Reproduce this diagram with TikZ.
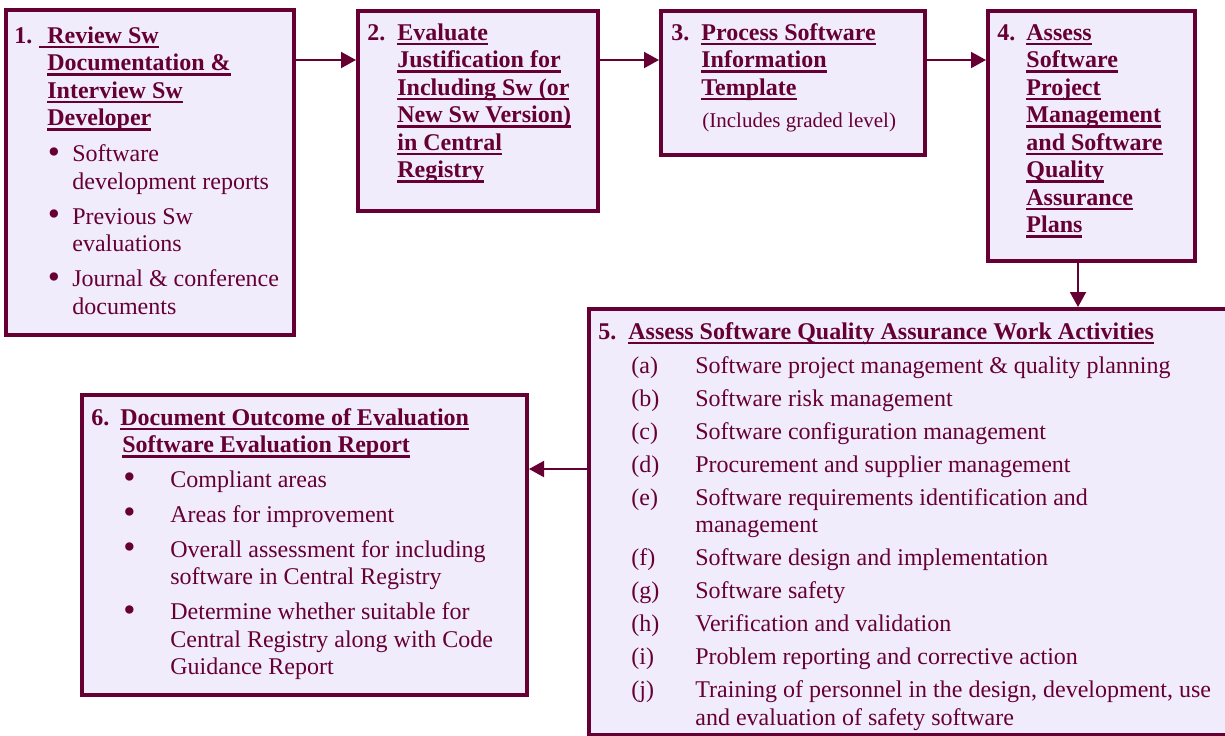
\documentclass[tikz,border=0pt]{standalone}
\usepackage{fontspec}
\setmainfont{Liberation Serif}
\usetikzlibrary{arrows.meta}
\definecolor{maroon}{RGB}{102,0,51}
\definecolor{lav}{RGB}{240,236,252}
\newcommand\ulx[1]{\setbox0=\hbox{#1}\rlap{\color{maroon}\rule[-2.5pt]{\wd0}{1.2pt}}\box0}
\newcommand\bul[2]{\hspace*{#1}\makebox[#2][l]{\raisebox{-0.9pt}{\scalebox{1.45}{\textbullet}}}}
\newcommand\lbl[2]{\hspace*{16.5pt}\makebox[32pt][l]{#1}#2}
\tikzset{
  box/.style={draw=maroon, fill=lav, line width=2pt, inner sep=0pt},
  txt/.style={anchor=base west, inner sep=0pt, text=maroon, font=\fontsize{12}{13.75}\selectfont},
  arr/.style={draw=maroon, line width=1pt, -{Triangle[length=7.5pt,width=8pt]}}
}
\begin{document}
\begin{tikzpicture}[x=0.5pt,y=-0.5pt]
\useasboundingbox (0,0) rectangle (1225,735);
\clip (0,0) rectangle (1225,735);
\fill[white] (0,0) rectangle (1225,735);
% boxes
\node[box, minimum width=144pt, minimum height=162.5pt] (b1) at (150,172.5) {};
\node[box, minimum width=120pt, minimum height=100pt] (b2) at (478,111) {};
\node[box, minimum width=132pt, minimum height=72pt] (b3) at (793,83) {};
\node[box, minimum width=103.5pt, minimum height=125pt] (b4) at (1091.5,136) {};
\node[box, minimum width=325.5pt, minimum height=213pt] (b5) at (914.5,522) {};
\node[box, minimum width=222.5pt, minimum height=150pt] (b6) at (304.5,545) {};
% texts
\node[txt] (t1) at (14,43) {\parbox[t]{300pt}{\raggedright\bfseries
\makebox[12.5pt][l]{1.}\ulx{\hspace*{4pt}Review Sw}\\
\hspace*{16.5pt}\ulx{Documentation \&}\\
\hspace*{16.5pt}\ulx{Interview Sw}\\
\hspace*{16.5pt}\ulx{Developer}\\[4.25pt]
\mdseries
\bul{16.75pt}{12.25pt}Software\\
\hspace*{29pt}development reports\\[3.75pt]
\bul{16.75pt}{12.25pt}Previous Sw\\
\hspace*{29pt}evaluations\\[3.75pt]
\bul{16.75pt}{12.25pt}Journal \& conference\\
\hspace*{29pt}documents}};
\node[txt] (t2) at (367,40) {\parbox[t]{300pt}{\raggedright\bfseries
\makebox[15pt][l]{2.}\ulx{Evaluate}\\
\hspace*{15pt}\ulx{Justification for}\\
\hspace*{15pt}\ulx{Including Sw (or}\\
\hspace*{15pt}\ulx{New Sw Version)}\\
\hspace*{15pt}\ulx{in Central}\\
\hspace*{15pt}\ulx{Registry}}};
\node[txt] (t3) at (671,40) {\parbox[t]{300pt}{\raggedright\bfseries
\makebox[15pt][l]{3.}\ulx{Process Software}\\
\hspace*{15pt}\ulx{Information}\\
\hspace*{15pt}\ulx{Template}\\[2.25pt]
{\mdseries\fontsize{10.5}{13.75}\selectfont\hspace*{15.5pt}(Includes graded level)}}};
\node[txt] (t4) at (997,40) {\parbox[t]{300pt}{\raggedright\bfseries
\makebox[14.5pt][l]{4.}\ulx{Assess}\\
\hspace*{14.5pt}\ulx{Software}\\
\hspace*{14.5pt}\ulx{Project}\\
\hspace*{14.5pt}\ulx{Management}\\
\hspace*{14.5pt}\ulx{and Software}\\
\hspace*{14.5pt}\ulx{Quality}\\
\hspace*{14.5pt}\ulx{Assurance}\\
\hspace*{14.5pt}\ulx{Plans}}};
\node[txt] (t5) at (598,339) {\parbox[t]{400pt}{\raggedright
{\bfseries\makebox[15pt][l]{5.}\ulx{Assess Software Quality Assurance Work Activities}}\\[3.25pt]
\lbl{(a)}{Software project management \& quality planning}\\[2.75pt]
\lbl{(b)}{Software risk management}\\[2.75pt]
\lbl{(c)}{Software configuration management}\\[2.75pt]
\lbl{(d)}{Procurement and supplier management}\\[2.75pt]
\lbl{(e)}{Software requirements identification and}\\
\hspace*{48.5pt}management\\[2.75pt]
\lbl{(f)}{Software design and implementation}\\[2.75pt]
\lbl{(g)}{Software safety}\\[2.75pt]
\lbl{(h)}{Verification and validation}\\[2.75pt]
\lbl{(i)}{Problem reporting and corrective action}\\[2.75pt]
\lbl{(j)}{Training of personnel in the design, development, use}\\
\hspace*{48.5pt}and evaluation of safety software}};
\node[txt] (t6) at (91,425) {\parbox[t]{300pt}{\raggedright
{\bfseries\makebox[14.5pt][l]{6.}\ulx{Document Outcome of Evaluation}\\
\hspace*{15.5pt}\ulx{Software Evaluation Report}}\\[3.5pt]
\bul{16pt}{23.5pt}Compliant areas\\[3.75pt]
\bul{16pt}{23.5pt}Areas for improvement\\[3.75pt]
\bul{16pt}{23.5pt}Overall assessment for including\\
\hspace*{39.5pt}software in Central Registry\\[3.75pt]
\bul{16pt}{23.5pt}Determine whether suitable for\\
\hspace*{39.5pt}Central Registry along with Code\\
\hspace*{39.5pt}Guidance Report}};
% connectors
\coordinate (a12) at (0,60);
\coordinate (a45) at (1078,0);
\coordinate (a56) at (0,469);
\draw[arr] (b1.east |- a12) -- (b2.west |- a12);
\draw[arr] (b2.east |- a12) -- (b3.west |- a12);
\draw[arr] (b3.east |- a12) -- (b4.west |- a12);
\draw[arr] (b4.south -| a45) -- (b5.north -| a45);
\draw[arr] (b5.west |- a56) -- (b6.east |- a56);
\end{tikzpicture}
\end{document}
